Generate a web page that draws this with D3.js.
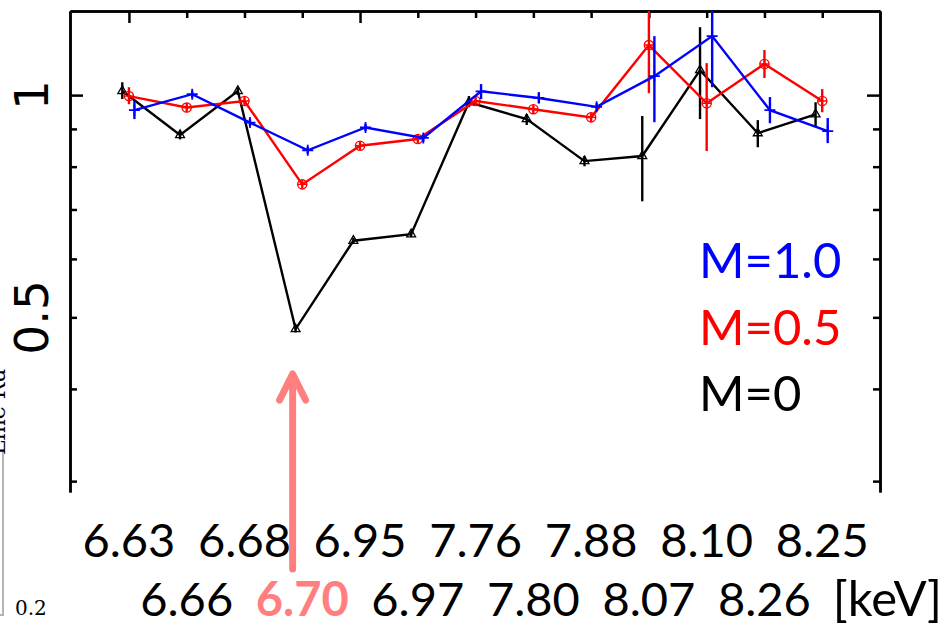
<!DOCTYPE html>
<html>
<head>
<meta charset="utf-8">
<script src="https://cdn.jsdelivr.net/npm/d3@7"></script>
<style>
  html, body { margin: 0; padding: 0; background: #fff; }
  svg { display: block; }
</style>
</head>
<body>
<svg id="chart" width="946" height="626"></svg>
<script>
// Line energies of the 13 ratios (keV), in plotting order
const energies = ["6.63", "6.66", "6.68", "6.70", "6.95", "6.97", "7.76", "7.80", "7.88", "8.07", "8.10", "8.26", "8.25"];
const highlightIndex = 3;

// M = 0 : ratio, lower and upper error
const m0Val = [1.013, 0.883, 1.013, 0.482, 0.635, 0.648, 0.978, 0.928, 0.814, 0.827, 1.081, 0.888, 0.942];
const m0Lo  = [0.988, 0.871, 1.001, 0.477, 0.629, 0.642, 0.963, 0.911, 0.801, 0.718, 0.928, 0.850, 0.908];
const m0Hi  = [1.041, 0.895, 1.025, 0.487, 0.641, 0.654, 0.997, 0.942, 0.827, 0.937, 1.236, 0.925, 0.978];

// M = 0.5
const m05Val = [0.997, 0.962, 0.982, 0.757, 0.854, 0.872, 0.982, 0.957, 0.933, 1.169, 0.975, 1.102, 0.982];
const m05Lo  = [0.972, 0.951, 0.971, 0.749, 0.844, 0.862, 0.971, 0.946, 0.922, 1.006, 0.840, 1.055, 0.948];
const m05Hi  = [1.025, 0.973, 0.993, 0.765, 0.864, 0.882, 0.993, 0.968, 0.944, 1.400, 1.105, 1.151, 1.019];

// M = 1.0
const m1Val = [0.954, 1.003, 0.918, 0.842, 0.904, 0.875, 1.012, 0.991, 0.964, 1.061, 1.202, 0.954, 0.894];
const m1Lo  = [0.928, 0.992, 0.908, 0.833, 0.894, 0.865, 0.988, 0.975, 0.953, 0.919, 1.025, 0.916, 0.861];
const m1Hi  = [0.982, 1.014, 0.928, 0.851, 0.914, 0.885, 1.035, 1.009, 0.975, 1.202, 1.400, 0.994, 0.931];

const legendLabels = ["M=1.0", "M=0.5", "M=0"];
const yMajor = [1];
const yMinor = [0.9, 0.8, 0.7, 0.6, 0.5, 0.4, 0.3];
const yLabels = [1, 0.5];

const series = [
  { name: "M=0",   color: "#000000", marker: "triangle", shift: -0.115, val: m0Val,  lo: m0Lo,  hi: m0Hi },
  { name: "M=0.5", color: "#ff0000", marker: "circle",   shift: 0,      val: m05Val, lo: m05Lo, hi: m05Hi },
  { name: "M=1.0", color: "#0000ff", marker: "plus",     shift: 0.095,  val: m1Val,  lo: m1Lo,  hi: m1Hi }
];

const frame = { left: 70, right: 880, top: 11, bottom: 492 };
const accent = "#ff7f7f";

const svg = d3.select("#chart");

const x = d3.scaleLinear().domain([-1.02, 13.0]).range([frame.left, frame.right]);
const y = d3.scaleLog().domain([0.29, 1.3]).range([frame.bottom, frame.top]);

svg.append("defs").append("clipPath").attr("id", "plotClip")
  .append("rect")
  .attr("x", frame.left).attr("y", frame.top)
  .attr("width", frame.right - frame.left).attr("height", frame.bottom - frame.top);

// ---- axes (ticks point inward, open bottom) ----
function styleAxis(g) {
  g.selectAll("path.domain").attr("stroke", "#000").attr("stroke-width", 2.5);
  g.selectAll(".tick line").attr("stroke", "#000").attr("stroke-width", 2.5);
  g.selectAll(".tick text").remove();
}

svg.append("g").attr("transform", `translate(${frame.left},0)`)
  .call(d3.axisRight(y).tickValues(yMinor).tickSize(7).tickSizeOuter(0)).call(styleAxis);
svg.append("g").attr("transform", `translate(${frame.left},0)`)
  .call(d3.axisRight(y).tickValues(yMajor).tickSize(13).tickSizeOuter(0)).call(styleAxis);

svg.append("g").attr("transform", `translate(${frame.right},0)`)
  .call(d3.axisLeft(y).tickValues(yMinor).tickSize(7).tickSizeOuter(0)).call(styleAxis);
svg.append("g").attr("transform", `translate(${frame.right},0)`)
  .call(d3.axisLeft(y).tickValues(yMajor).tickSize(13).tickSizeOuter(0)).call(styleAxis);

const idx = d3.range(energies.length);
svg.append("g").attr("transform", `translate(0,${frame.top})`)
  .call(d3.axisBottom(x).tickValues(idx.filter(i => i !== 0 && i !== 4)).tickSize(7).tickSizeOuter(0)).call(styleAxis);
svg.append("g").attr("transform", `translate(0,${frame.top})`)
  .call(d3.axisBottom(x).tickValues([0, 4]).tickSize(12).tickSizeOuter(0)).call(styleAxis);

// rotated y labels
svg.append("g").selectAll("text").data(yLabels).join("text")
  .attr("transform", d => `translate(48,${y(d)}) rotate(-90)`)
  .attr("text-anchor", "middle")
  .attr("font-family", "'DejaVu Sans', sans-serif")
  .attr("font-size", 47)
  .attr("fill", "#000")
  .text(d => d);

// ---- data ----
const plot = svg.append("g").attr("clip-path", "url(#plotClip)");

series.forEach(s => {
  const pts = idx.map(i => ({ i, v: s.val[i], lo: s.lo[i], hi: s.hi[i] }));
  const g = plot.append("g");
  const px = d => x(d.i + s.shift);

  g.append("path")
    .datum(pts)
    .attr("fill", "none")
    .attr("stroke", s.color)
    .attr("stroke-width", 2.4)
    .attr("d", d3.line().x(px).y(d => y(d.v)));

  g.selectAll("line.err").data(pts).join("line")
    .attr("class", "err")
    .attr("x1", px).attr("x2", px)
    .attr("y1", d => y(d.lo)).attr("y2", d => y(d.hi))
    .attr("stroke", s.color).attr("stroke-width", 2.4);

  const mk = g.selectAll("g.mk").data(pts).join("g")
    .attr("class", "mk")
    .attr("transform", d => `translate(${px(d)},${y(d.v)})`);

  if (s.marker === "triangle") {
    mk.append("path")
      .attr("d", d3.symbol(d3.symbolTriangle, 34)())
      .attr("fill", "none").attr("stroke", s.color).attr("stroke-width", 1.3);
  } else if (s.marker === "circle") {
    mk.append("circle").attr("r", 4.6)
      .attr("fill", "none").attr("stroke", s.color).attr("stroke-width", 1.4);
    mk.append("path").attr("d", "M-4.6,0H4.6M0,-4.6V4.6")
      .attr("stroke", s.color).attr("stroke-width", 1.4);
  } else {
    mk.append("path").attr("d", "M-5.5,0H5.5M0,-5.5V5.5")
      .attr("stroke", s.color).attr("stroke-width", 1.8);
  }
});

// ---- legend ----
const legendColors = { "M=1.0": "#0000ff", "M=0.5": "#ff0000", "M=0": "#000000" };
svg.append("g").selectAll("text").data(legendLabels).join("text")
  .attr("x", 699)
  .attr("y", (d, i) => 278 + i * 66.5)
  .attr("font-family", "Lato, sans-serif")
  .attr("font-size", 49)
  .attr("fill", d => legendColors[d])
  .text(d => d);

// ---- energy labels, staggered on two rows ----
svg.append("g").selectAll("text").data(idx).join("text")
  .attr("x", i => x(i))
  .attr("y", i => (i % 2 === 0 ? 557 : 616))
  .attr("text-anchor", "middle")
  .attr("font-family", "Lato, sans-serif")
  .attr("font-size", 47)
  .attr("font-weight", i => (i === highlightIndex ? 700 : 400))
  .attr("fill", i => (i === highlightIndex ? accent : "#000"))
  .text(i => energies[i]);

svg.append("text")
  .attr("x", 942).attr("y", 616)
  .attr("text-anchor", "end")
  .attr("font-family", "Lato, sans-serif")
  .attr("font-size", 49)
  .attr("fill", "#000")
  .text("[keV]");

// ---- arrow marking the 6.70 keV line ----
const ax = x(highlightIndex + series[0].shift) - 3;
const arrow = svg.append("g")
  .attr("fill", "none").attr("stroke", accent).attr("stroke-width", 7)
  .attr("stroke-linecap", "round").attr("stroke-linejoin", "round");
arrow.append("line").attr("x1", ax).attr("x2", ax).attr("y1", 569).attr("y2", 377);
arrow.append("polyline").attr("points", `${ax - 13},400 ${ax},374 ${ax + 13},400`);

// ---- neighbouring panel edge ----
const side = svg.append("g");
side.append("text")
  .attr("transform", "translate(5,455) rotate(-90)")
  .attr("font-family", "'DejaVu Serif', serif")
  .attr("font-size", 22)
  .attr("fill", "#000")
  .text("Line Ra");
side.append("path").attr("d", "M3,452V615H0")
  .attr("fill", "none").attr("stroke", "#b4b4b4").attr("stroke-width", 2);
side.append("text")
  .attr("x", 15).attr("y", 615)
  .attr("font-family", "'DejaVu Serif', serif")
  .attr("font-size", 20)
  .attr("fill", "#000")
  .text("0.2");
</script>
</body>
</html>
